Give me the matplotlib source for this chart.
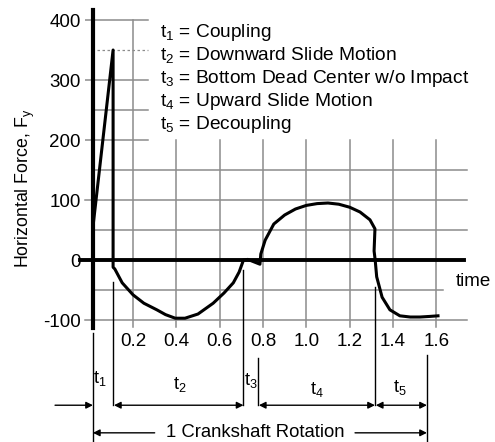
import matplotlib
matplotlib.use('Agg')
import matplotlib.pyplot as plt

plt.rcParams['font.family'] = ['Liberation Sans', 'DejaVu Sans']
plt.rcParams['mathtext.fontset'] = 'custom'
plt.rcParams['mathtext.rm'] = 'Liberation Sans'
plt.rcParams['mathtext.it'] = 'Liberation Sans:italic'

# force trace (time, horizontal force)
time_pts = [0.015, 0.108, 0.108, 0.116, 0.15, 0.2, 0.25, 0.31, 0.35, 0.395,
            0.44, 0.5, 0.57, 0.62, 0.663, 0.69, 0.71, 0.73, 0.786, 0.79,
            0.81, 0.85, 0.9, 0.95, 1.0, 1.05, 1.1, 1.15, 1.2, 1.248,
            1.294, 1.317, 1.313, 1.318, 1.325, 1.35, 1.386, 1.432, 1.48, 1.525,
            1.57, 1.608]
force_pts = [55, 350, -12, -15, -38, -58, -72, -83, -91, -97,
             -97, -90, -72, -55, -38, -20, 0, 1, -7, 10,
             33, 60, 75, 85, 91, 94, 95, 93, 88, 80,
             67, 52, 15, 0, -28, -62, -83, -93, -95, -95,
             -94, -93]

# phase boundaries t1..t5 (start of t1 ... end of t5)
phase_bounds = [0.015, 0.108, 0.71, 0.777, 1.317, 1.557]
phase_names = ['Coupling', 'Downward Slide Motion', 'Bottom Dead Center w/o Impact',
               'Upward Slide Motion', 'Decoupling']

y_ticks = [-100, 0, 100, 200, 300, 400]
x_ticks = [0.2, 0.4, 0.6, 0.8, 1.0, 1.2, 1.4, 1.6]

W, H = 495, 442
fig = plt.figure(figsize=(W / 100, H / 100), dpi=100)
# plot area in pixels: x 85..470, y 8..325
ax = fig.add_axes([85 / W, 1 - 325 / H, 385 / W, 317 / H])
ax.set_xlim(-0.0217, 1.7558)
ax.set_ylim(-108.3, 420)
for s in ax.spines.values():
    s.set_visible(False)

grey = '#8c8c8c'
xl = -0.0217
ax_x = phase_bounds[0]

# upper-left short grid lines
for lvl in [400, 300, 250, 200]:
    ax.plot([xl if lvl in y_ticks else ax_x, 0.27], [lvl, lvl], color=grey, lw=1.1)
ax.plot([0.035, 0.27], [350, 350], color=grey, lw=0.9, ls=(0, (2, 2)))
# full width grid lines
for lvl in [150, 100, 50, -50, -100]:
    x_end = 1.63 if lvl == -50 else 1.74
    ax.plot([xl if lvl in y_ticks else ax_x, x_end], [lvl, lvl],
            color=grey, lw=1.1, clip_on=False)
for xv in x_ticks:
    top = 400 if xv == 0.2 else 200
    ax.plot([xv, xv], [-112, top], color=grey, lw=1.1, clip_on=False)

# zero line and vertical axis
ax.plot([-0.045, 1.727], [0, 0], color='black', lw=2.8, clip_on=False)
ax.plot([ax_x, ax_x], [-113, 417], color='black', lw=3, clip_on=False)

# force curve
ax.plot(time_pts, force_pts, color='black', lw=2.2, solid_joinstyle='round', clip_on=False)

ax.set_yticks(y_ticks)
ax.set_yticklabels([str(v) for v in y_ticks])
ax.set_xticks(x_ticks)
ax.set_xticklabels(['%.1f' % v for v in x_ticks])
ax.tick_params(axis='y', length=0, pad=3, labelsize=13.5)
ax.tick_params(axis='x', length=0, pad=6, labelsize=13.5)

ax.text(1.69, -35, 'time', fontsize=13.5, ha='left', va='center', clip_on=False)

# legend of phases
for i, name in enumerate(phase_names):
    ax.text(0.325, 380 - 38.5 * i, r'$\mathrm{t}_{%d}$ = %s' % (i + 1, name),
            fontsize=13.8, ha='left', va='center')

fig.text(25 / W, 1 - 188 / H, r'Horizontal Force, $\mathrm{F}_\mathrm{y}$',
         rotation=90, ha='center', va='center', fontsize=12.8)

# dimension lines under the chart
arr_y = -242
crank_y = -288
line_tops = [-122, -37, -17, -163, -45, -158]
line_bots = [-303, arr_y, arr_y, arr_y, arr_y, -303]
for xb, yt, yb in zip(phase_bounds, line_tops, line_bots):
    ax.plot([xb, xb], [yt, yb], color='black', lw=1.0, clip_on=False)

aprops = dict(arrowstyle='-|>', color='black', lw=1.0, mutation_scale=10,
              shrinkA=0, shrinkB=0)
dprops = dict(arrowstyle='<|-|>', color='black', lw=1.0, mutation_scale=10,
              shrinkA=0, shrinkB=0)
ax.annotate('', xy=(phase_bounds[0], arr_y), xytext=(-0.16, arr_y),
            arrowprops=aprops, annotation_clip=False)
for a, b in [(1, 2), (3, 4), (4, 5)]:
    ax.annotate('', xy=(phase_bounds[b], arr_y), xytext=(phase_bounds[a] + 0.004, arr_y),
                arrowprops=dprops, annotation_clip=False)

label_x = [0.047, 0.417, 0.745, 1.05, 1.433]
label_y = [-197, -208, -200, -215, -213]
for i, (lx, ly) in enumerate(zip(label_x, label_y)):
    ax.text(lx, ly, r'$\mathrm{t}_{%d}$' % (i + 1), fontsize=13,
            ha='center', va='center', clip_on=False)

ax.text(0.765, crank_y, '1 Crankshaft Rotation', fontsize=13.3,
        ha='center', va='center', clip_on=False)
ax.annotate('', xy=(phase_bounds[0], crank_y), xytext=(0.30, crank_y),
            arrowprops=aprops, annotation_clip=False)
ax.annotate('', xy=(phase_bounds[5], crank_y), xytext=(1.225, crank_y),
            arrowprops=aprops, annotation_clip=False)

fig.savefig('out.png', dpi=100)
